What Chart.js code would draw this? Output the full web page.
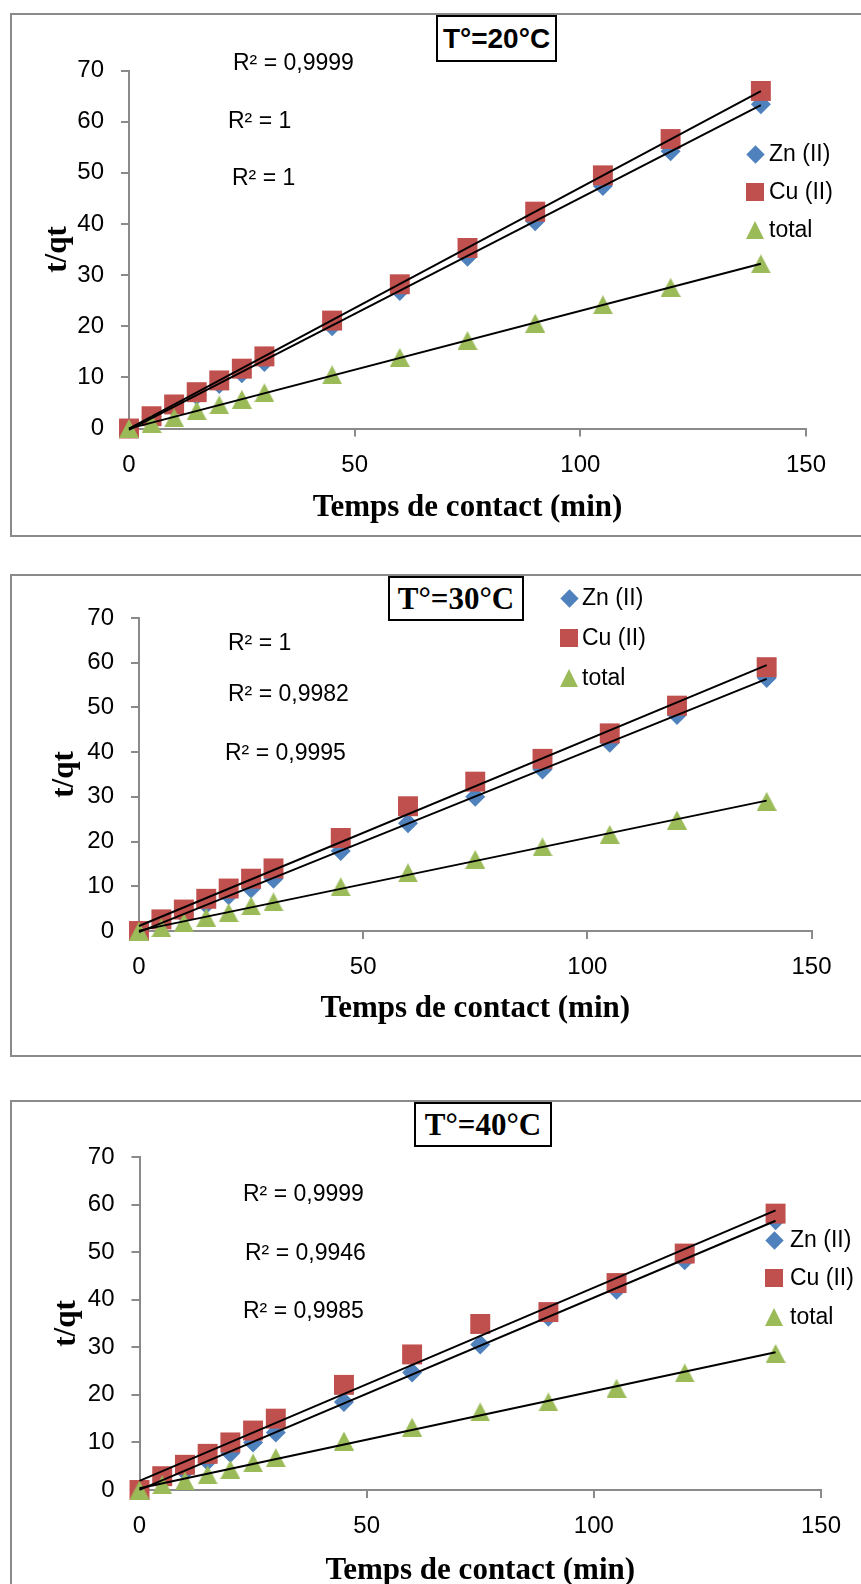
<!DOCTYPE html>
<html>
<head>
<meta charset="utf-8">
<script src="https://cdn.jsdelivr.net/npm/chart.js@4.4.1/dist/chart.umd.min.js"></script>
<style>
  body{margin:0;width:861px;height:1584px;overflow:hidden;position:relative;background:#fff;font-family:"Liberation Sans",Arial,sans-serif;}
  .frame{position:absolute;left:10px;width:900px;border:2px solid #8a8a8a;box-sizing:border-box;}
  canvas{position:absolute;left:0;}
  .tbox{position:absolute;border:2px solid #000;box-sizing:border-box;background:#fff;display:flex;align-items:center;justify-content:center;font-weight:bold;color:#000;white-space:nowrap;}
  .r2{position:absolute;font-size:23px;line-height:28px;color:#000;white-space:nowrap;}
  .lg{position:absolute;font-size:23px;line-height:28px;color:#000;white-space:nowrap;}
  .mk{position:absolute;}
  .dia{width:13px;height:13px;background:#4f81bd;transform:rotate(45deg);}
  .sq{width:18px;height:18px;background:#c0504d;}
  .tri{width:0;height:0;border-left:9px solid transparent;border-right:9px solid transparent;border-bottom:18px solid #9bbb59;}
</style>
</head>
<body>
<div class="frame" style="top:13px;height:524px"></div>
<div class="frame" style="top:574px;height:483px"></div>
<div class="frame" style="top:1100px;height:600px"></div>
<canvas id="c20" width="861" height="522" style="top:14px"></canvas>
<canvas id="c30" width="861" height="481" style="top:575px"></canvas>
<canvas id="c40" width="861" height="500" style="top:1101px"></canvas>
<div id="overlay"></div>
<script>
// contact time (min)
const time=[0,5,10,15,20,25,30,45,60,75,90,105,120,140];

// t/qt at 20°C
const zn20=[0,2.3,4.4,6.5,8.7,10.8,13.0,20.0,26.9,33.6,40.5,47.4,54.2,63.4];
const cu20=[0,2.4,4.7,7.1,9.4,11.7,14.1,21.1,28.2,35.3,42.4,49.5,56.6,66.0];
const tot20=[0,1.0,2.1,3.5,4.6,5.7,7.0,10.5,13.9,17.2,20.6,24.2,27.6,32.2];

// t/qt at 30°C
const zn30=[0,1.9,3.7,6.0,8.0,9.5,11.7,17.9,24.1,30.0,36.1,42.1,48.3,56.6];
const cu30=[0,2.6,4.8,7.2,9.5,11.7,14.0,20.8,27.9,33.4,38.5,44.2,50.4,59.0];
const tot30=[0,0.7,1.9,3.0,4.1,5.6,6.5,9.9,13.0,16.0,18.8,21.6,24.8,29.0];

// t/qt at 40°C
const zn40=[0,2.1,3.9,6.1,7.8,10.0,12.1,18.5,24.7,30.6,36.4,42.1,48.3,56.7];
const cu40=[0,2.9,5.3,7.6,10.0,12.5,15.0,22.1,28.5,34.9,37.4,43.5,49.7,58.1];
const tot40=[0,1.1,1.9,3.2,4.3,5.7,6.8,10.3,13.2,16.4,18.5,21.4,24.6,28.7];

const seriesNames=["Zn (II)","Cu (II)","total"];
const titles=["T°=20°C","T°=30°C","T°=40°C"];
const r2Labels=[
  ["R² = 0,9999","R² = 1","R² = 1"],
  ["R² = 1","R² = 0,9982","R² = 0,9995"],
  ["R² = 0,9999","R² = 0,9946","R² = 0,9985"]
];
const xTicks=[0,50,100,150];
const yTicks=[0,10,20,30,40,50,60,70];

const ZN="#4f81bd", CU="#c0504d", TOT="#9bbb59";

Chart.defaults.font.family='"Liberation Sans", Arial, sans-serif';
Chart.defaults.color="#000";

// excel style triangle marker (box centred on the point)
const triImg=document.createElement("canvas");
triImg.width=20; triImg.height=19;
(function(){
  const g=triImg.getContext("2d");
  g.fillStyle=TOT;
  g.beginPath(); g.moveTo(10,0); g.lineTo(20,19); g.lineTo(0,19); g.closePath(); g.fill();
})();

function pts(arr){ return time.map((t,i)=>({x:t,y:arr[i]})); }

function fitLine(arr){
  const n=time.length;
  let sx=0,sy=0,sxx=0,sxy=0;
  for(let i=0;i<n;i++){ sx+=time[i]; sy+=arr[i]; sxx+=time[i]*time[i]; sxy+=time[i]*arr[i]; }
  const a=(n*sxy-sx*sy)/(n*sxx-sx*sx);
  const b=(sy-a*sx)/n;
  const x0=time[0], x1=time[n-1];
  return [{x:x0,y:a*x0+b},{x:x1,y:a*x1+b}];
}// least squares trendline across the data range

function trend(arr){
  return {type:"line",data:fitLine(arr),borderColor:"#000",borderWidth:2,pointRadius:0,showLine:true,order:0,clip:false};
}

function makeChart(id,zn,cu,tot,lay){
  const cv=document.getElementById(id);
  const H=cv.height;
  new Chart(cv.getContext("2d"),{
    type:"scatter",
    data:{datasets:[
      trend(zn),trend(cu),trend(tot),
      {label:seriesNames[2],data:pts(tot),pointStyle:triImg,pointRadius:10,borderWidth:0,backgroundColor:TOT,order:1,clip:false},
      {label:seriesNames[1],data:pts(cu),pointStyle:"rect",pointRadius:14.1,borderWidth:0,backgroundColor:CU,order:2,clip:false},
      {label:seriesNames[0],data:pts(zn),pointStyle:"rectRot",pointRadius:10,borderWidth:0,backgroundColor:ZN,order:3,clip:false}
    ]},
    options:{
      responsive:false,
      animation:false,
      events:[],
      layout:{padding:{left:0,top:lay.caTop-lay.top,right:861-lay.caRight,bottom:0}},
      plugins:{legend:{display:false},tooltip:{enabled:false}},
      scales:{
        x:{
          type:"linear",min:0,max:150,
          afterBuildTicks:s=>{s.ticks=xTicks.map(v=>({value:v}));},
          afterFit:s=>{s.height=H-(lay.caBottom-lay.top);},
          grid:{drawOnChartArea:false,drawTicks:true,tickLength:8,color:"#8a8a8a",lineWidth:2},
          border:{color:"#8a8a8a",width:2},
          ticks:{padding:14,font:{size:24},color:"#000"},
          title:{display:true,text:"Temps de contact (min)",color:"#000",
            font:{family:'"Liberation Serif","Times New Roman",serif',size:31,weight:"bold"},
            padding:{top:0,bottom:H-(lay.xTitleY-lay.top)-18.6}}
        },
        y:{
          min:0,max:70,
          afterBuildTicks:s=>{s.ticks=yTicks.map(v=>({value:v}));},
          afterFit:s=>{s.width=lay.caLeft;},
          grid:{drawOnChartArea:false,drawTicks:true,tickLength:8,color:"#8a8a8a",lineWidth:2},
          border:{color:"#8a8a8a",width:2},
          ticks:{padding:17,font:{size:24},color:"#000"},
          title:{display:true,text:"t/qt",color:"#000",
            font:{family:'"Liberation Serif","Times New Roman",serif',size:31,weight:"bold"},
            padding:{top:lay.yTitleX-18.6,bottom:0}}
        }
      }
    }
  });
}

const layouts=[
  {top:14,caLeft:129,caRight:806,caTop:70.5,caBottom:428.5,xTitleY:508,yTitleX:58,
   box:{l:436,t:15,w:121,h:47,font:'bold 28px "Liberation Sans", Arial, sans-serif'},
   r2:[[233,62],[228,120],[232,177]],
   leg:{mx:755,tx:769,ys:[153,191,229]}},
  {top:575,caLeft:139,caRight:811.5,caTop:618,caBottom:931,xTitleY:1009,yTitleX:65,
   box:{l:388,t:576,w:136,h:45,font:'bold 31px "Liberation Serif", "Times New Roman", serif'},
   r2:[[228,642],[228,693],[225,752]],
   leg:{mx:569,tx:582,ys:[597,637,677]}},
  {top:1101,caLeft:139.5,caRight:821,caTop:1157,caBottom:1490,xTitleY:1571,yTitleX:67,
   box:{l:414,t:1102,w:138,h:45,font:'bold 31px "Liberation Serif", "Times New Roman", serif'},
   r2:[[243,1193],[245,1252],[243,1310]],
   leg:{mx:774,tx:790,ys:[1239,1277,1316]}}
];

makeChart("c20",zn20,cu20,tot20,layouts[0]);
makeChart("c30",zn30,cu30,tot30,layouts[1]);
makeChart("c40",zn40,cu40,tot40,layouts[2]);

// title boxes, R² labels and legends as html text
const ov=document.getElementById("overlay");
const mkCls=["dia","sq","tri"];
const mkSize=[[13,13],[18,18],[18,18]];
layouts.forEach((L,k)=>{
  const b=document.createElement("div");
  b.className="tbox";
  b.style.cssText=`left:${L.box.l}px;top:${L.box.t}px;width:${L.box.w}px;height:${L.box.h}px;font:${L.box.font};`;
  b.textContent=titles[k];
  ov.appendChild(b);

  L.r2.forEach(([x,y],i)=>{
    const d=document.createElement("div");
    d.className="r2";
    d.style.left=x+"px"; d.style.top=(y-14)+"px";
    d.textContent=r2Labels[k][i];
    ov.appendChild(d);
  });

  seriesNames.forEach((name,i)=>{
    const y=L.leg.ys[i];
    const [w,h]=mkSize[i];
    const m=document.createElement("div");
    m.className="mk "+mkCls[i];
    m.style.left=(L.leg.mx-w/2)+"px"; m.style.top=(y-h/2+1)+"px";
    ov.appendChild(m);
    const t=document.createElement("div");
    t.className="lg";
    t.style.left=L.leg.tx+"px"; t.style.top=(y-14)+"px";
    t.textContent=name;
    ov.appendChild(t);
  });
});
</script>
</body>
</html>
